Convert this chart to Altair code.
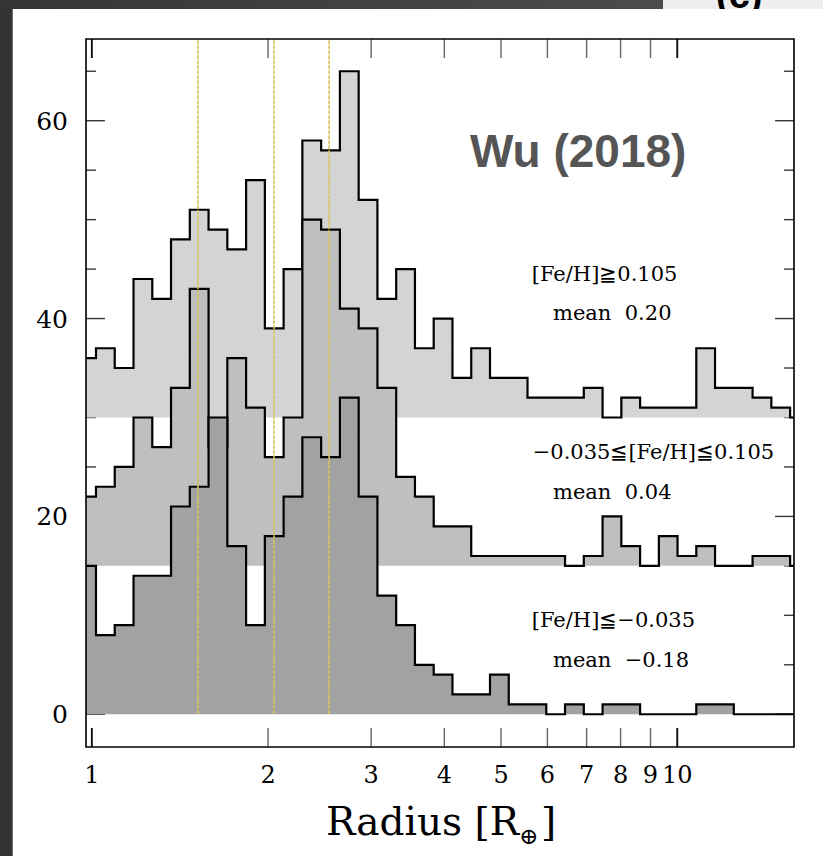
import altair as alt
import pandas as pd

# ---------------- data ----------------
# log-uniform radius bin edges (39 bins, 40 edges)
bin_edges = [0.9443, 1.0166, 1.0944, 1.1783, 1.2685, 1.3656, 1.4702, 1.5828, 1.7040, 1.8345,
             1.9750, 2.1262, 2.2890, 2.4643, 2.6530, 2.8562, 3.0749, 3.3104, 3.5638, 3.8367,
             4.1305, 4.4468, 4.7874, 5.1540, 5.5486, 5.9735, 6.4310, 6.9234, 7.4536, 8.0244,
             8.6388, 9.3004, 10.009, 10.775, 11.600, 12.489, 13.445, 14.475, 15.583, 16.776]

# [Fe/H] >= 0.105  (plotted with offset 30)
counts_high = [6, 7, 5, 14, 12, 18, 21, 19, 17, 24, 9, 15, 28, 27, 35, 22, 12, 15, 7, 10,
               4, 7, 4, 4, 2, 2, 2, 3, 0, 2, 1, 1, 1, 7, 3, 3, 2, 1, 0]
# -0.035 <= [Fe/H] <= 0.105  (offset 15)
counts_mid = [7, 8, 10, 15, 12, 18, 28, 12, 21, 16, 11, 15, 35, 34, 26, 24, 18, 9, 7, 4,
              4, 1, 1, 1, 1, 1, 0, 1, 5, 2, 0, 3, 1, 2, 0, 0, 1, 1, 0]
# [Fe/H] <= -0.035  (offset 0)
counts_low = [15, 8, 9, 14, 14, 21, 23, 30, 17, 9, 18, 22, 28, 26, 32, 22, 12, 9, 5, 4,
              2, 2, 4, 1, 1, 0, 1, 0, 1, 1, 0, 0, 0, 1, 1, 0, 0, 0, 0]
offset_high, offset_mid, offset_low = 30, 15, 0

gap_lines = [1.5176, 2.0476, 2.5429]

x_ticks = [1, 2, 3, 4, 5, 6, 7, 8, 9, 10]
x_tick_labels = ["1", "2", "3", "4", "5", "6", "7", "8", "9", "10"]
x_major = [1, 10]
y_major = [0, 20, 40, 60]
y_minor = [5, 10, 15, 25, 30, 35, 45, 50, 55, 65]
y_tick_labels = ["0", "20", "40", "60"]

# ---------------- layout ----------------
W, H = 708, 708
xscale = alt.Scale(type="log", domain=[0.97745, 15.824], nice=False)
yscale = alt.Scale(domain=[-3.31, 68.26], nice=False, zero=False)
one = pd.DataFrame({"d": [0]})


def series_df(counts, base):
    vals = [base + c for c in counts] + [base + counts[-1]]
    return pd.DataFrame({"r": bin_edges, "v": vals, "base": [base] * len(bin_edges)})


def rect(x, x2, y, y2, **kw):
    return alt.Chart(one).mark_rect(**kw).encode(
        x=alt.value(x), x2=alt.value(x2), y=alt.value(y), y2=alt.value(y2))


def label(txt, px, py, size, font="DejaVu Serif", weight="normal", color="black", align="left"):
    return alt.Chart(one).mark_text(
        align=align, baseline="alphabetic", font=font, fontSize=size,
        fontWeight=weight, color=color).encode(
        x=alt.value(px), y=alt.value(py), text=alt.value(txt))


layers = []

# page background pieces
layers.append(rect(-86, 577, -39, -30, fill=alt.Gradient(
    gradient="linear", x1=0, x2=1, y1=0, y2=0,
    stops=[alt.GradientStop(color="#353535", offset=0),
           alt.GradientStop(color="#4c4c4c", offset=1)])))
layers.append(rect(577, 737, -39, -30, fill="#efefef"))
layers.append(label("(c)", 630, -31, 38, font="Liberation Sans", weight="bold"))
layers.append(rect(-73.3, 737, -30, 817, fill="white"))

# ticks (under the histograms)
ymaj_df = pd.DataFrame({"t": y_major})
ymin_df = pd.DataFrame({"t": y_minor})
Yt = alt.Y("t:Q", scale=yscale, axis=None)
tick_col = "#3a3a3a"
for x0, x1, df in [(0, 19, ymaj_df), (0, 10, ymin_df), (W - 19, W, ymaj_df), (W - 10, W, ymin_df)]:
    layers.append(alt.Chart(df).mark_rule(color=tick_col, strokeWidth=1.4).encode(
        y=Yt, x=alt.value(x0), x2=alt.value(x1)))

xt_df = pd.DataFrame({"t": x_ticks, "lab": x_tick_labels})
xmaj_df = pd.DataFrame({"t": x_major})
Xt = alt.X("t:Q", scale=xscale, axis=None)
for y0, y1 in [(0, 19), (H - 19, H)]:
    layers.append(alt.Chart(xt_df).mark_rule(color="#666666", strokeWidth=1.4).encode(
        x=Xt, y=alt.value(y0), y2=alt.value(y1)))
    layers.append(alt.Chart(xmaj_df).mark_rule(color="#111111", strokeWidth=1.8).encode(
        x=Xt, y=alt.value(y0), y2=alt.value(y1)))

# histograms: high (top), mid, low drawn in this order
X = alt.X("r:Q", scale=xscale, axis=None)
Y = alt.Y("v:Q", scale=yscale, axis=None)
for counts, base, fill in [(counts_high, offset_high, "#d4d4d4"),
                           (counts_mid, offset_mid, "#bfbfbf"),
                           (counts_low, offset_low, "#a2a2a2")]:
    df = series_df(counts, base)
    layers.append(alt.Chart(df).mark_area(interpolate="step-after", color=fill, clip=True).encode(
        x=X, y=Y, y2="base:Q"))
    layers.append(alt.Chart(df).mark_line(interpolate="step-after", color="black", strokeWidth=2.2,
                                          strokeJoin="miter", clip=True).encode(x=X, y=Y))

# vertical yellow lines
gl_df = pd.DataFrame({"r": gap_lines, "y0": [0] * len(gap_lines)})
layers.append(alt.Chart(gl_df).mark_rule(color="#dcc35a", strokeWidth=1.6, strokeDash=[4, 1]).encode(
    x=X, y=alt.Y("y0:Q", scale=yscale, axis=None), y2=alt.value(0)))

# frame
layers.append(rect(0, W, 0, H, fill="white", fillOpacity=0, stroke="black", strokeWidth=1.6))

# tick labels
layers.append(alt.Chart(xt_df).mark_text(font="DejaVu Serif", fontSize=24, align="center",
                                         baseline="alphabetic").encode(
    x=Xt, y=alt.value(744), text="lab:N"))
yl_df = pd.DataFrame({"t": y_major, "lab": y_tick_labels})
layers.append(alt.Chart(yl_df).mark_text(font="DejaVu Serif", fontSize=25, align="right",
                                         baseline="alphabetic", dy=9).encode(
    y=Yt, x=alt.value(-18), text="lab:N"))

# axis title Radius [R_⊕]
layers.append(label("Radius [R", 240, 796, 39))
layers.append(label("\u2295", 433, 805, 23))
layers.append(label("]", 455, 796, 39))

# panel title and annotations
layers.append(label("Wu (2018)", 384, 127.7, 46, font="Liberation Sans", weight="bold", color="#555555"))
layers.append(label("[Fe/H]\u22670.105", 445.7, 241.7, 21))
layers.append(label("mean\u00a0\u00a00.20", 467, 281, 21))
layers.append(label("\u22120.035\u2266[Fe/H]\u22660.105", 446.7, 420, 21))
layers.append(label("mean\u00a0\u00a00.04", 467, 460, 21))
layers.append(label("[Fe/H]\u2266\u22120.035", 445.7, 587.7, 21))
layers.append(label("mean\u00a0\u00a0\u22120.18", 467, 627.7, 21))

chart = alt.layer(*layers).properties(
    width=W, height=H,
    autosize=alt.AutoSizeParams(type="none"),
    padding={"left": 86, "top": 39, "right": 29, "bottom": 109},
).configure(background="#333333").configure_view(strokeWidth=0)

chart.save("out.html", embed_options={"renderer": "svg", "actions": False})
